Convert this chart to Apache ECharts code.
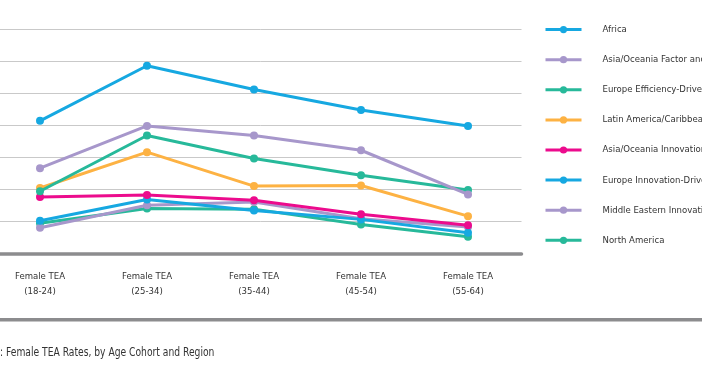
<!DOCTYPE html>
<html>
<head>
<meta charset="utf-8">
<script src="https://cdn.jsdelivr.net/npm/echarts@6/dist/echarts.min.js"></script>
<style>
html,body{margin:0;padding:0;background:#fff;}
#c{width:702px;height:370px;}
</style>
</head>
<body>
<div id="c"></div>
<script>
const categories = ['Female TEA\n(18-24)', 'Female TEA\n(25-34)', 'Female TEA\n(35-44)', 'Female TEA\n(45-54)', 'Female TEA\n(55-64)'];
const seriesNames = ['Africa', 'Asia/Oceania Factor and Efficiency-Driven', 'Europe Efficiency-Driven', 'Latin America/Caribbean', 'Asia/Oceania Innovation-Driven', 'Europe Innovation-Driven', 'Middle Eastern Innovation-Driven', 'North America'];
const africa = [20.7, 29.3, 25.6, 22.4, 19.9];
const asiaOceaniaFactorEff = [13.3, 19.9, 18.4, 16.1, 9.2];
const europeEfficiency = [9.7, 18.4, 14.8, 12.2, 9.9];
const latinAmerica = [10.2, 15.8, 10.5, 10.6, 5.8];
const asiaOceaniaInnovation = [8.8, 9.1, 8.3, 6.1, 4.4];
const europeInnovation = [5.1, 8.4, 6.7, 5.3, 3.2];
const middleEastInnovation = [4.0, 7.5, 8.0, 5.4, 4.1];
const northAmerica = [4.7, 7.0, 6.9, 4.5, 2.6];
const caption = ': Female TEA Rates, by Age Cohort and Region';

const values = [africa, asiaOceaniaFactorEff, europeEfficiency, latinAmerica, asiaOceaniaInnovation, europeInnovation, middleEastInnovation, northAmerica];
const colors = ['#16a8e1', '#a797cb', '#27b99a', '#fdb243', '#ec0b8d', '#16a8e1', '#a797cb', '#27b99a'];
const font = "'Liberation Sans Narrow', 'DejaVu Sans Condensed', 'Roboto', sans-serif";

const chart = echarts.init(document.getElementById('c'), null, {renderer: 'canvas'});
chart.setOption({
  animation: false,
  color: colors,
  grid: {left: -13.5, top: 29.3, width: 535, height: 224, containLabel: false, outerBoundsMode: 'none'},
  xAxis: {
    type: 'category',
    data: categories,
    boundaryGap: true,
    axisLine: {show: true, lineStyle: {color: '#8c8c8e', width: 3.5}},
    axisTick: {show: false},
    axisLabel: {color: '#333', fontFamily: font, fontSize: 9.5, lineHeight: 15, margin: 16}
  },
  yAxis: {
    type: 'value',
    min: 0, max: 35, interval: 5,
    axisLine: {show: false},
    axisTick: {show: false},
    axisLabel: {show: false},
    splitLine: {lineStyle: {color: '#c9c9c9', width: 1}}
  },
  legend: {
    orient: 'vertical',
    left: 539, top: 19.6,
    itemWidth: 36, itemHeight: 9, itemGap: 20.1,
    lineStyle: {width: 3},
    textStyle: {color: '#333', fontFamily: font, fontSize: 9.5, padding: [0, 0, 0, 16]},
    data: seriesNames
  },
  graphic: [
    {type: 'rect', shape: {x: 0, y: 318, width: 702, height: 3.5}, style: {fill: '#8c8c8e'}},
    {type: 'text', left: 0, top: 347, scaleX: 0.85, style: {text: caption, fill: '#333', font: "12px " + font}}
  ],
  series: values.map((v, i) => ({
    name: seriesNames[i],
    type: 'line',
    data: v,
    symbol: 'circle',
    symbolSize: 8,
    lineStyle: {width: 3, color: colors[i]},
    itemStyle: {color: colors[i]},
    z: 10 - i
  }))
});
</script>
</body>
</html>
